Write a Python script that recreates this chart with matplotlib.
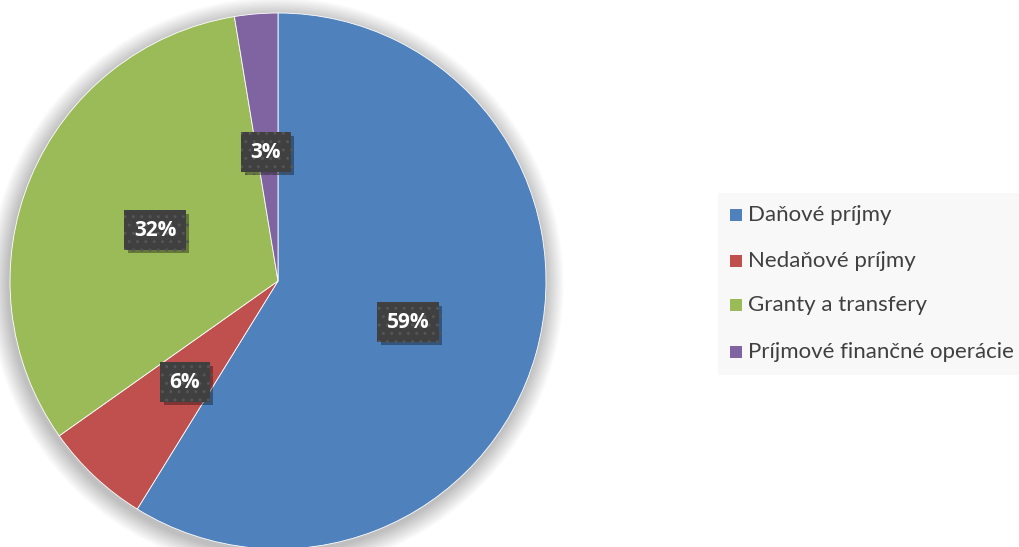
import matplotlib
matplotlib.use("Agg")
import matplotlib.pyplot as plt
from matplotlib.patches import Circle, Rectangle
import matplotlib.patheffects as pe

categories = ["Daňové príjmy", "Nedaňové príjmy", "Granty a transfery", "Príjmové finančné operácie"]
values = [58.8, 6.4, 32.2, 2.6]
pct_labels = ["59%", "6%", "32%", "3%"]
colors = ["#4F81BD", "#C0504D", "#9BBB59", "#8064A2"]

W, H = 1019, 547
fig = plt.figure(figsize=(W / 100, H / 100), dpi=100)
fig.patch.set_facecolor("white")

cx, cy, r = 278, 281, 268
ax = fig.add_axes([(cx - r) / W, (H - cy - r) / H, 2 * r / W, 2 * r / H])

# soft shadow
for i in range(16):
    rr = 1.0 + 0.0045 * (i + 1)
    ax.add_patch(Circle((-0.006, -0.014), rr, fc="#000000", ec="none", alpha=0.014,
                        zorder=0, clip_on=False))

wedges, _ = ax.pie(values, colors=colors, startangle=90, counterclock=False, radius=1.0,
                   wedgeprops=dict(edgecolor="white", linewidth=0.6))
for w in wedges:
    w.set_zorder(2)
ax.set_xlim(-1, 1)
ax.set_ylim(-1, 1)
ax.set_aspect("equal")
ax.axis("off")

label_pos = [(0.485, -0.153), (-0.347, -0.377), (-0.459, 0.190), (-0.045, 0.481)]
for (x, y), t in zip(label_pos, pct_labels):
    txt = ax.text(x, y, t, ha="center", va="center", fontsize=15, fontweight="bold",
                  color="white", family="Open Sans", zorder=4,
                  bbox=dict(boxstyle="square,pad=0.45", fc="#404040", ec="#555555", lw=0, hatch=".."))
    txt.get_bbox_patch().set_path_effects([pe.SimplePatchShadow(offset=(2.5, -2.5), shadow_rgbFace="black", alpha=0.35),
                                           pe.Normal()])

# legend background
fig.patches.append(Rectangle((718 / W, 1 - 375 / H), (W - 718) / W, (375 - 193) / H,
                             transform=fig.transFigure, fc="#F8F8F8", ec="none", zorder=0))
leg_y = [215, 261, 305, 352]
for yy, c, lab in zip(leg_y, colors, categories):
    fig.patches.append(Rectangle((730 / W, 1 - (yy + 6) / H), 12 / W, 12 / H,
                                 transform=fig.transFigure, fc=c, ec="none", zorder=1))
    fig.text(748 / W, 1 - yy / H, lab, ha="left", va="center", fontsize=16,
             color="#404040", family="Lato")

fig.savefig("out.png", dpi=100)
